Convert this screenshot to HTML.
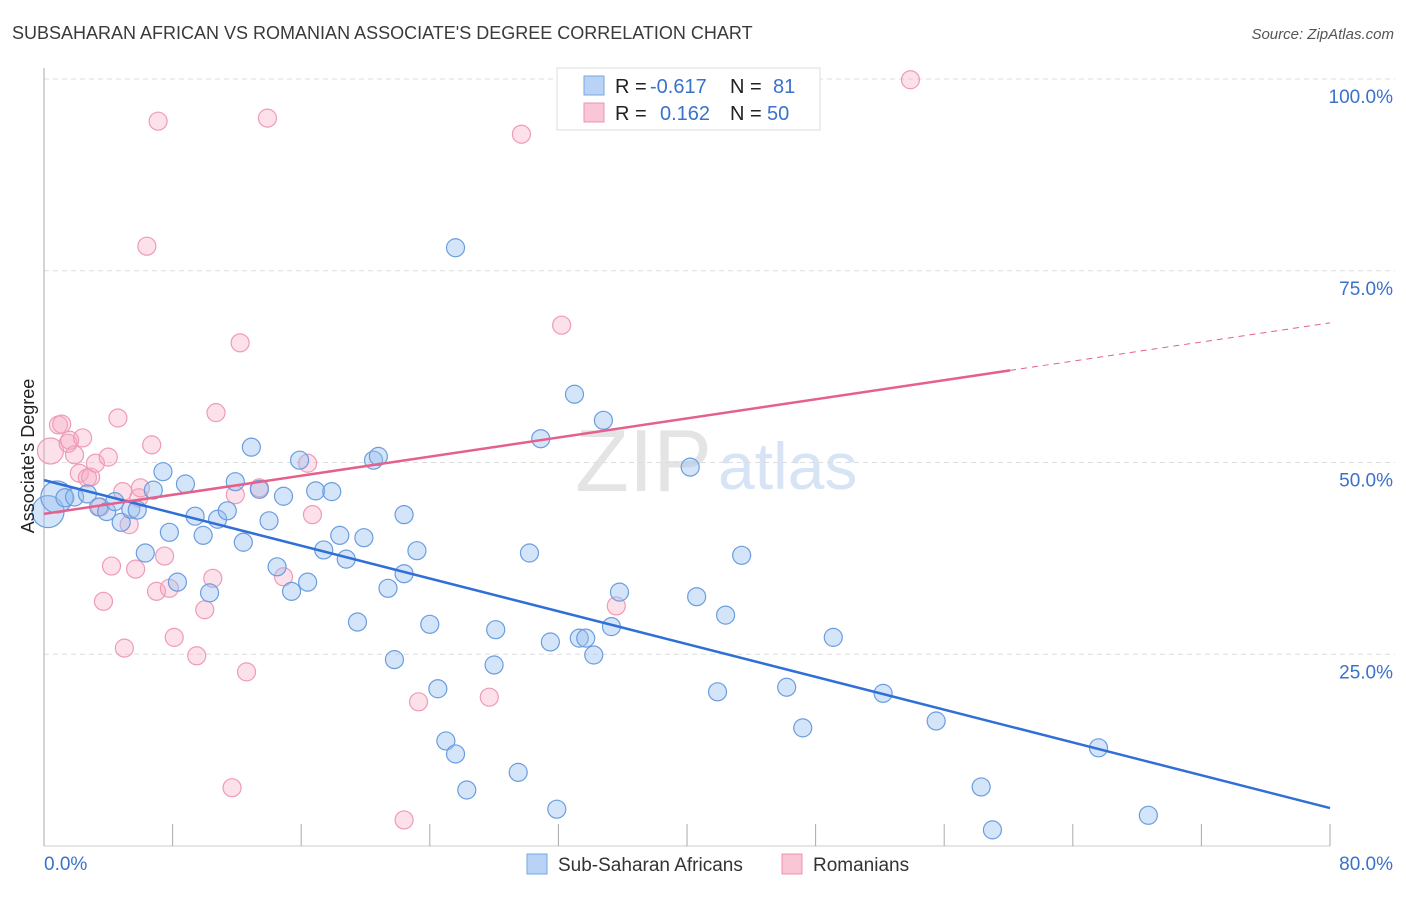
<!DOCTYPE html>
<html><head><meta charset="utf-8"><style>
body{margin:0;background:#fff;font-family:"Liberation Sans",sans-serif;}
svg text{font-family:"Liberation Sans",sans-serif;}
</style></head><body>
<svg id="chart" width="1406" height="892" xmlns="http://www.w3.org/2000/svg">
<text x="12" y="39" font-size="18" fill="#3a3a3a">SUBSAHARAN AFRICAN VS ROMANIAN ASSOCIATE'S DEGREE CORRELATION CHART</text>
<text x="1394" y="39" font-size="15" font-style="italic" fill="#555" text-anchor="end">Source: ZipAtlas.com</text>
<text x="712" y="491" font-size="88" fill="#e4e4e4" text-anchor="end" font-family="Liberation Serif">ZIP</text>
<text x="718" y="489" font-size="66" fill="#d6e4f5">atlas</text>
<g id="grid"></g>
<g id="axes"></g>
<g id="marks"></g>
<text transform="translate(34,456) rotate(-90)" font-size="18" fill="#222" text-anchor="middle">Associate's Degree</text>
<g>
<rect x="557" y="68" width="263" height="62" fill="#fff" stroke="#ddd"/>
<rect x="584" y="76" width="20" height="19" fill="#b8d3f5" stroke="#7aa7e0"/>
<rect x="584" y="103" width="20" height="19" fill="#f9c6d5" stroke="#ee93b0"/>
<text x="615" y="93" font-size="20" fill="#222">R =</text>
<text x="650" y="93" font-size="20" fill="#3a72c9">-0.617</text>
<text x="730" y="93" font-size="20" fill="#222">N =</text>
<text x="773" y="93" font-size="20" fill="#3a72c9">81</text>
<text x="615" y="120" font-size="20" fill="#222">R =</text>
<text x="660" y="120" font-size="20" fill="#3a72c9">0.162</text>
<text x="730" y="120" font-size="20" fill="#222">N =</text>
<text x="767" y="120" font-size="20" fill="#3a72c9">50</text>
</g>
<g>
<rect x="527" y="854" width="20" height="20" fill="#b8d3f5" stroke="#7aa7e0"/>
<text x="558" y="871" font-size="19" fill="#333">Sub-Saharan Africans</text>
<rect x="782" y="854" width="20" height="20" fill="#f9c6d5" stroke="#ee93b0"/>
<text x="813" y="871" font-size="19" fill="#333">Romanians</text>
</g>
</svg>
<script>
const xTicks=[0,8,16,24,32,40,48,56,64,72,80];
const yTicks=[25,50,75,100];
const yTickLabels=["25.0%","50.0%","75.0%","100.0%"];
const xEndLabels=["0.0%","80.0%"];
const blueX=[0.25,0.8,1.3,1.9,2.7,3.4,3.9,4.4,4.8,5.4,5.8,6.3,6.8,7.4,7.8,8.3,8.8,9.4,9.9,10.3,10.8,11.4,11.9,12.4,12.9,13.4,14.0,14.5,14.9,15.4,15.9,16.4,16.9,17.4,17.9,18.4,18.8,19.5,19.9,20.5,20.8,21.4,21.8,22.4,22.4,23.2,24.0,24.5,25.0,25.6,25.6,26.3,28.1,28.0,29.5,30.2,30.9,31.5,31.9,33.0,33.3,33.7,34.2,34.8,35.3,35.8,40.2,40.6,41.9,42.4,43.4,46.2,47.2,49.1,52.2,55.5,58.3,59.0,65.6,68.7];
const blueY=[43.6,45.5,45.4,45.5,45.9,44.2,43.6,44.9,42.2,43.9,43.8,38.2,46.4,48.8,40.9,34.4,47.2,43.0,40.5,33.0,42.6,43.7,47.5,39.6,52.0,46.5,42.4,36.4,45.6,33.2,50.3,34.4,46.3,38.6,46.2,40.5,37.4,29.2,40.2,50.3,50.8,33.6,24.3,35.5,43.2,38.5,28.9,20.5,13.7,12.0,78.0,7.3,28.2,23.6,9.6,38.2,53.1,26.6,4.8,58.9,27.1,27.1,24.9,55.5,28.6,33.1,49.4,32.5,20.1,30.1,37.9,20.7,15.4,27.2,19.9,16.3,7.7,2.1,12.8,4.0];
const pinkX=[0.4,0.9,1.1,1.5,1.6,1.9,2.2,2.4,2.7,2.9,3.2,3.5,4.0,4.2,4.6,3.7,5.0,5.3,5.7,5.9,6.0,6.4,6.7,7.0,7.1,7.5,7.8,8.1,9.5,10.0,10.5,10.7,11.9,11.7,12.2,12.6,13.4,13.9,14.9,16.4,16.7,22.4,23.3,27.7,29.7,32.2,35.6,53.9,4.9];
const pinkY=[51.5,54.9,55.0,52.5,52.9,51.0,48.6,53.2,48.0,48.1,49.9,44.2,50.7,36.5,55.8,31.9,25.8,41.9,36.1,45.4,46.7,78.2,52.3,33.2,94.5,37.8,33.6,27.2,24.8,30.8,34.9,56.5,45.8,7.6,65.6,22.7,46.7,94.9,35.1,49.9,43.2,3.4,18.8,19.4,92.8,67.9,31.3,99.9,46.2];
const blueTrend=[47.7,4.95];
const pinkTrend=[43.3,68.2];
const pinkSolidEnd=60.1;

const NS="http://www.w3.org/2000/svg";
const X0=44,X1=1330,Y0=846,Y100=79;
function sx(v){return X0+(v/80)*(X1-X0);}
function sy(v){return Y0-(v/100)*(Y0-Y100);}
function mk(tag,attrs,parent){const e=document.createElementNS(NS,tag);for(const k in attrs)e.setAttribute(k,attrs[k]);parent.appendChild(e);return e;}
const grid=document.getElementById('grid'),axes=document.getElementById('axes'),marks=document.getElementById('marks');
yTicks.forEach((t,i)=>{
  const l=mk('line',{x1:X0,x2:1395,y1:sy(t),y2:sy(t),stroke:'#ddd','stroke-dasharray':'5,4'},grid);
  
  
  const tx=mk('text',{x:1393,y:sy(t)+24,'font-size':19,fill:'#3a72c9','text-anchor':'end'},axes);
  tx.textContent=yTickLabels[i];
  
  
});
const ax=mk('line',{x1:X0,x2:X0,y1:68,y2:Y0,stroke:'#aaa'},axes);


const bx=mk('line',{x1:X0,x2:X1,y1:Y0,y2:Y0,stroke:'#ccc'},axes);


xTicks.forEach(t=>{
  const l=mk('line',{x1:sx(t),x2:sx(t),y1:824,y2:Y0,stroke:'#aaa'},axes);
  
  
});
const xl0=mk('text',{x:44,y:870,'font-size':19,fill:'#3a72c9'},axes);xl0.textContent=xEndLabels[0];


const xl1=mk('text',{x:1393,y:870,'font-size':19,fill:'#3a72c9','text-anchor':'end'},axes);xl1.textContent=xEndLabels[1];


pinkX.forEach((x,i)=>{
  const c=mk('circle',{cx:sx(x),cy:sy(pinkY[i]),r:i===0?13:9,fill:'rgba(246,170,195,0.35)',stroke:'#ef9bb6','stroke-width':1.2},marks);
  
  
});
blueX.forEach((x,i)=>{
  const c=mk('circle',{cx:sx(x),cy:sy(blueY[i]),r:i<2?16:9,fill:'rgba(150,190,240,0.4)',stroke:'#6a9de0','stroke-width':1.2},marks);
  
  
});
function trendAt(tr,x){return tr[0]+(tr[1]-tr[0])*x/80;}
const bl=mk('line',{x1:sx(0),y1:sy(trendAt(blueTrend,0)),x2:sx(80),y2:sy(trendAt(blueTrend,80)),stroke:'#2f6fd6','stroke-width':2.5},marks);


const pl=mk('line',{x1:sx(0),y1:sy(trendAt(pinkTrend,0)),x2:sx(pinkSolidEnd),y2:sy(trendAt(pinkTrend,pinkSolidEnd)),stroke:'#e5608c','stroke-width':2.5},marks);


const pd=mk('line',{x1:sx(pinkSolidEnd),y1:sy(trendAt(pinkTrend,pinkSolidEnd)),x2:sx(80),y2:sy(trendAt(pinkTrend,80)),stroke:'#e5608c','stroke-width':1,'stroke-dasharray':'6,5'},marks);


</script>
</body></html>
